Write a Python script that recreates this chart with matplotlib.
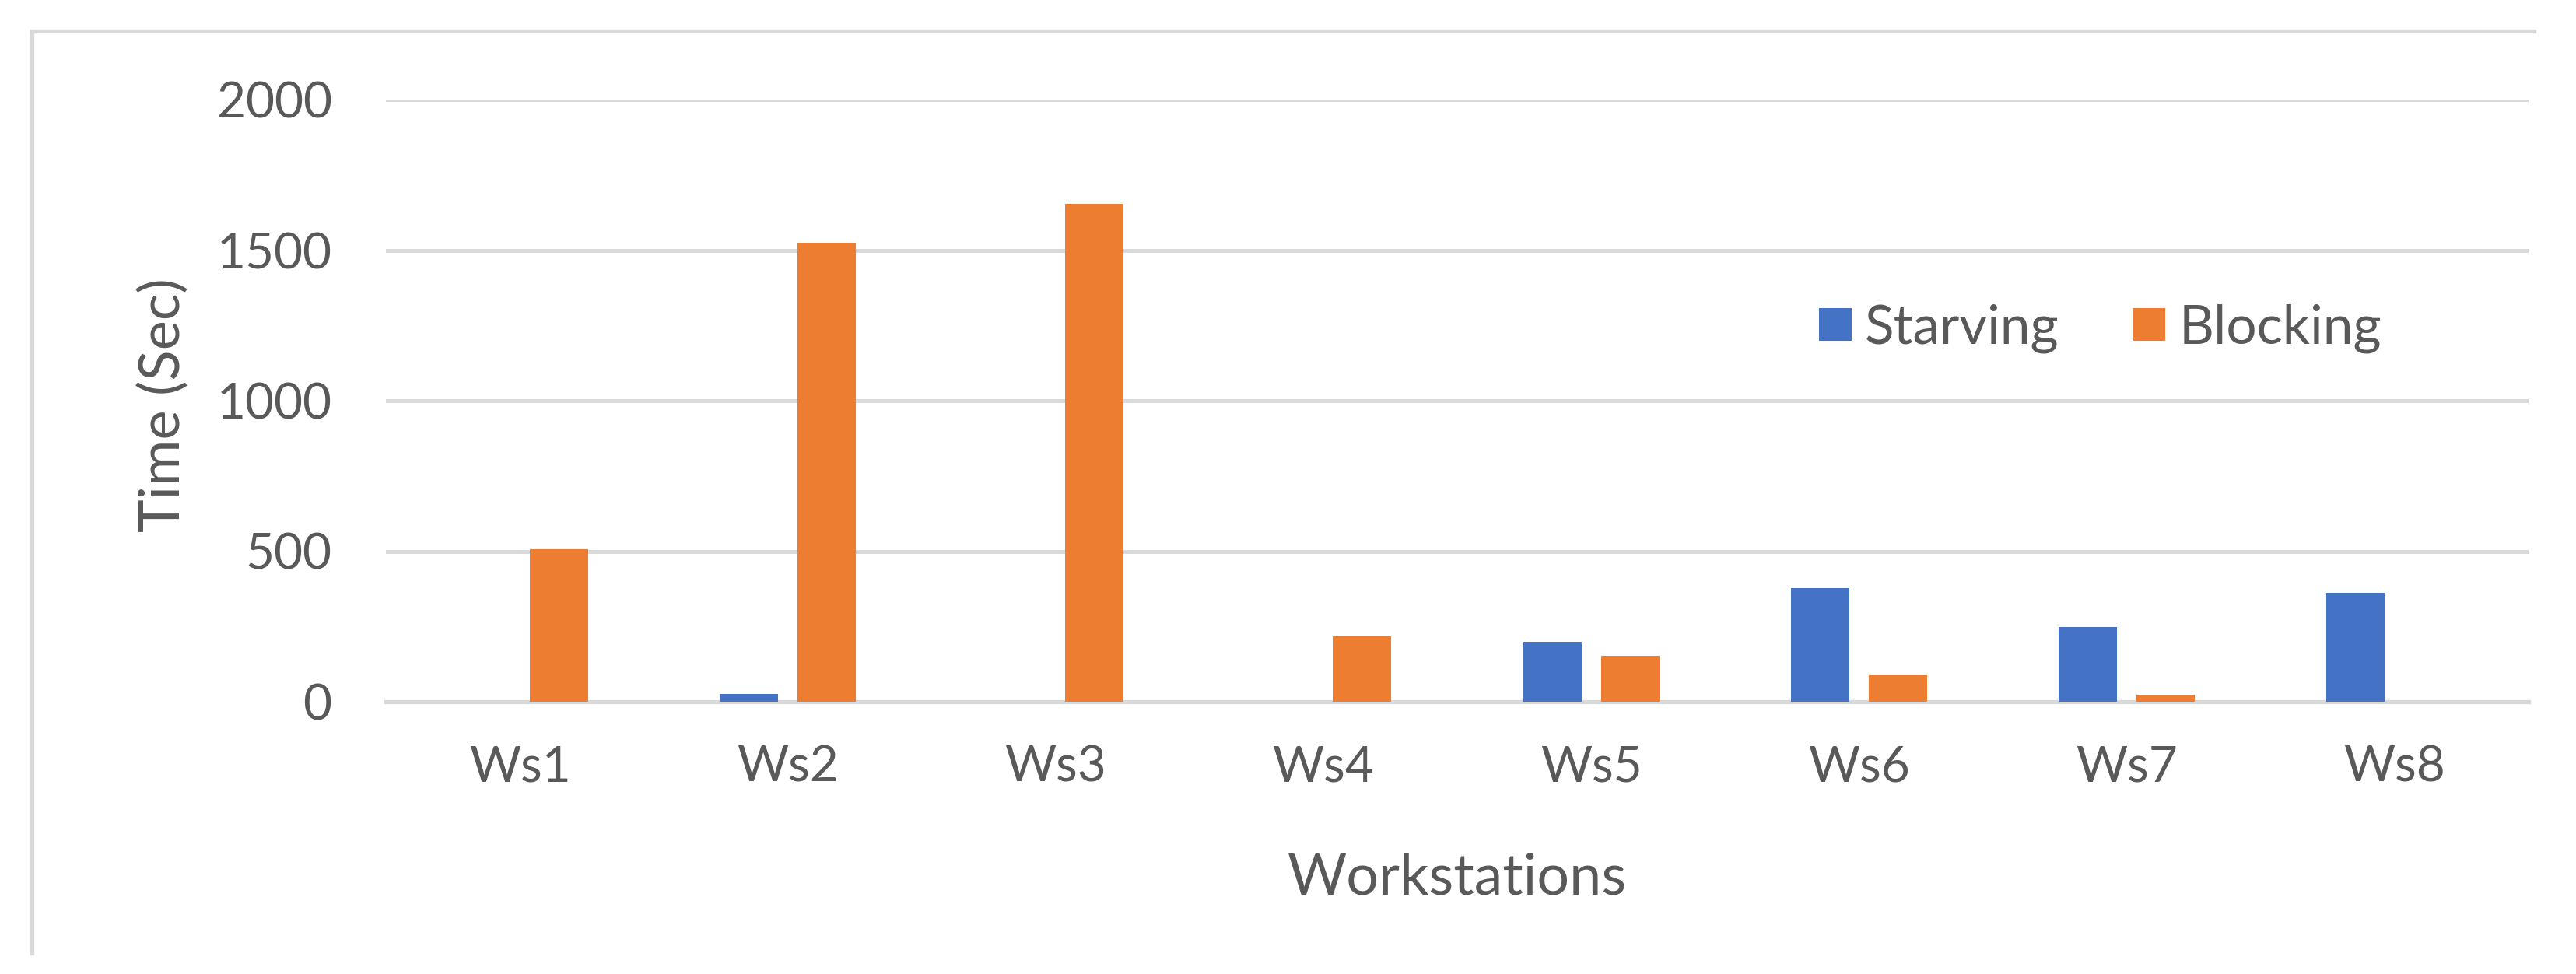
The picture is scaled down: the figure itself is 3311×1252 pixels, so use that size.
import matplotlib
matplotlib.use("Agg")
import matplotlib.pyplot as plt
from matplotlib.lines import Line2D
import numpy as np

plt.rcParams['font.family'] = ['Lato', 'DejaVu Sans']

# data
workstations = ['Ws1', 'Ws2', 'Ws3', 'Ws4', 'Ws5', 'Ws6', 'Ws7', 'Ws8']
starving = [0, 25, 0, 0, 200, 378, 248, 362]
blocking = [507, 1524, 1653, 218, 153, 88, 24, 0]
y_ticks = [0, 500, 1000, 1500, 2000]

BLUE = '#4472C4'
ORANGE = '#ED7D31'
GRID = '#D9D9D9'
TEXT = '#595959'

W, H = 3312, 1252
fig = plt.figure(figsize=(W / 100, H / 100), dpi=100)
ax = fig.add_axes([496 / W, 1 - 902 / H, (3250 - 496) / W, (902 - 128) / H])

x = np.arange(len(workstations))
bar_w = 0.218
off = 0.145
ax.bar(x - off, starving, bar_w, color=BLUE, label='Starving', zorder=3)
ax.bar(x + off, blocking, bar_w, color=ORANGE, label='Blocking', zorder=3)

ax.set_xlim(-0.5, len(workstations) - 0.5)
ax.set_ylim(0, 2000)
ax.set_yticks(y_ticks)
ax.set_xticks(x)
ax.set_xticklabels(workstations)

ax.yaxis.grid(True, color=GRID, linewidth=3.6)
ax.set_axisbelow(True)
for s in ['top', 'right', 'left']:
    ax.spines[s].set_visible(False)
ax.spines['bottom'].set_color(GRID)
ax.spines['bottom'].set_linewidth(3.8)

ax.tick_params(axis='both', length=0, labelsize=46, labelcolor=TEXT)
ax.tick_params(axis='y', pad=50)
ax.tick_params(axis='x', pad=40)

ax.set_xlabel('Workstations', fontsize=53, color=TEXT, va='baseline')
ax.xaxis.set_label_coords(0.5, (902 - 1150) / (902 - 128))
ax.set_ylabel('Time (Sec)', fontsize=52, color=TEXT, va='center')
ax.yaxis.set_label_coords((210 - 496) / (3250 - 496), (902 - 521) / (902 - 128))

ax.legend(loc='center left', bbox_to_anchor=(2338 / W, 1 - 422 / H),
          bbox_transform=fig.transFigure, frameon=False, ncol=2,
          fontsize=50, labelcolor=TEXT, handlelength=0.6, handleheight=0.55,
          handletextpad=0.25, columnspacing=1.37, borderpad=0, borderaxespad=0)

# outer chart frame (only top and left edges show in the crop)
fig.add_artist(Line2D([41 / W, 3257 / W], [1 - 40 / H, 1 - 40 / H], color=GRID, linewidth=3.8))
fig.add_artist(Line2D([41 / W, 41 / W], [1 - 40 / H, 1 - 1225 / H], color=GRID, linewidth=3.8))

fig.savefig('out.png', dpi=100, facecolor='white')
